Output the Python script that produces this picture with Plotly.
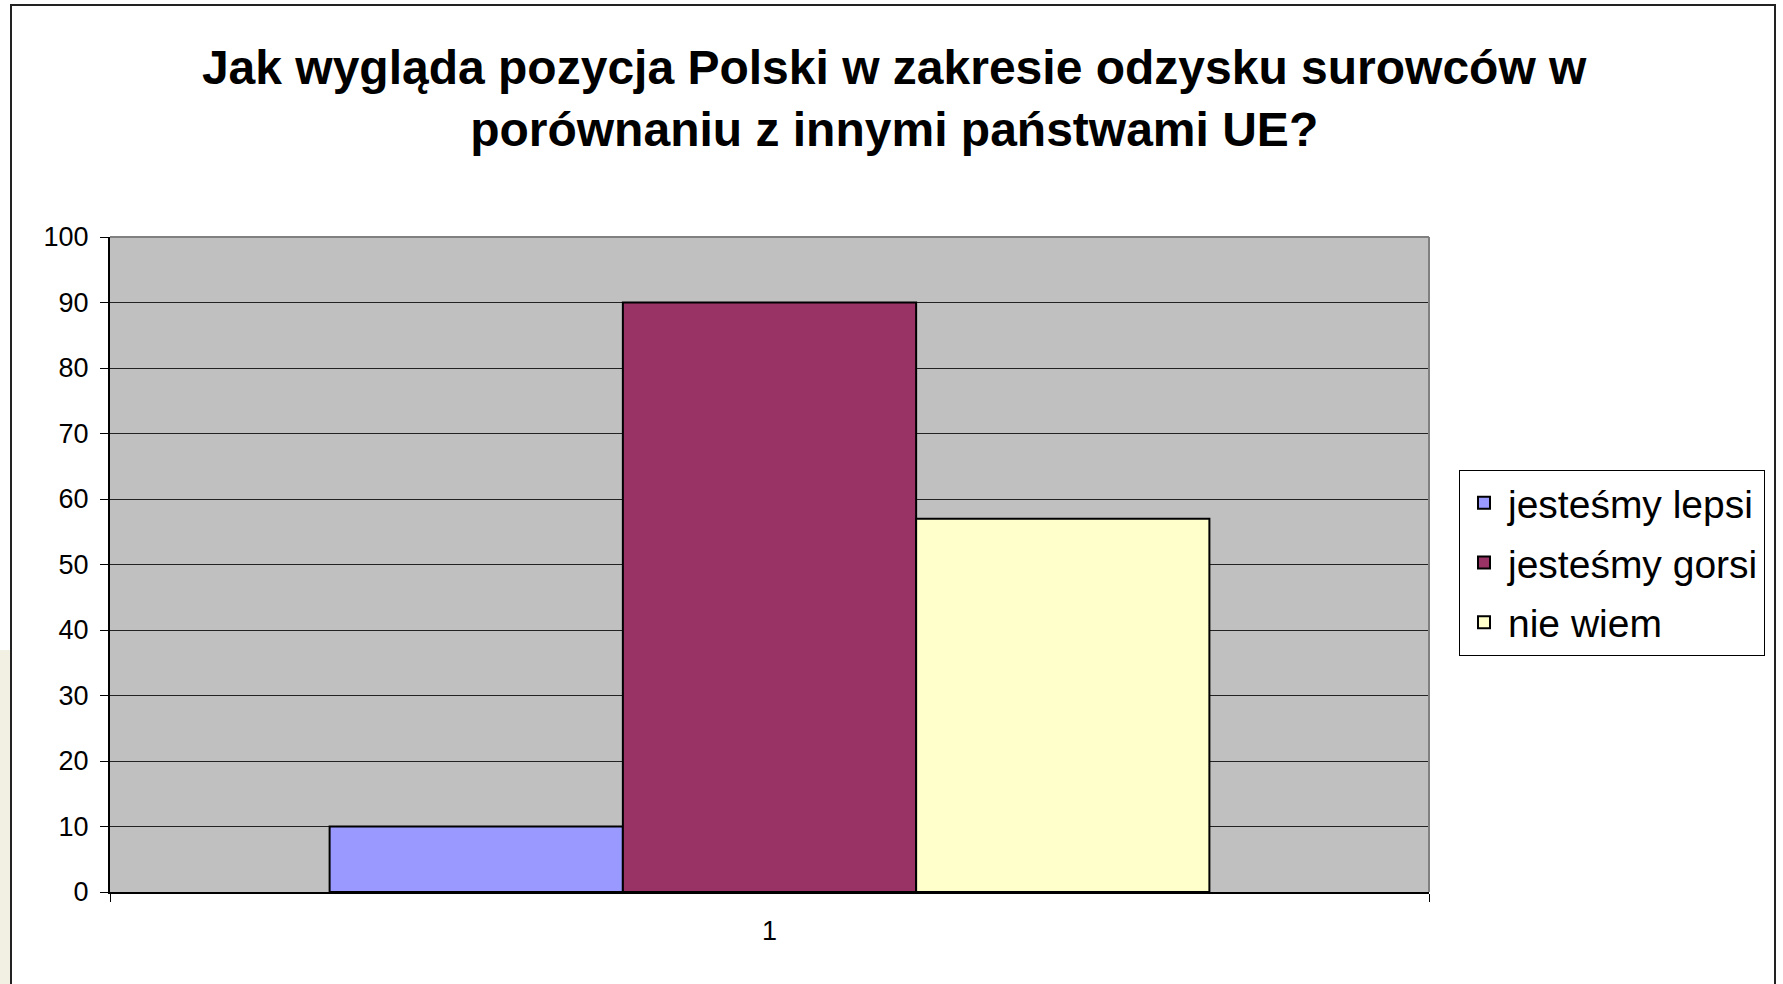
import plotly.graph_objects as go

categories = ["1"]
series_names = ["jesteśmy lepsi", "jesteśmy gorsi", "nie wiem"]
series_values = [[10], [90], [57]]
series_colors = ["#9999ff", "#993366", "#ffffcc"]
y_ticks = [0, 10, 20, 30, 40, 50, 60, 70, 80, 90, 100]
title_text = "Jak wygląda pozycja Polski w zakresie odzysku surowców w<br>porównaniu z innymi państwami UE?"

W, H = 1783, 984
L, R, T, B = 110, 354, 237, 92
PW, PH = W - L - R, H - T - B

def px_x(p):
    return (p - L) / PW

def px_y(p):
    return (H - B - p) / PH

FONT = "Liberation Sans, Arial, sans-serif"

fig = go.Figure()
for i, (name, vals, col) in enumerate(zip(series_names, series_values, series_colors)):
    fig.add_trace(go.Bar(
        x=categories, y=vals, name=name,
        marker=dict(color=col, line=dict(color="black", width=2)),
        legendgroup=f"g{i}",
    ))

fig.update_layout(
    width=W, height=H,
    margin=dict(l=L, r=R, t=T, b=B, autoexpand=False),
    paper_bgcolor="white",
    plot_bgcolor="#c0c0c0",
    barmode="group",
    bargap=0.333,
    bargroupgap=0,
    font=dict(family=FONT, color="black"),
    title=dict(
        text="<b>" + title_text + "</b>",
        x=0.5015, xanchor="center",
        y=1 - 84 / H, yanchor="middle", yref="container",
        font=dict(size=48, family=FONT, color="black"),
    ),
    showlegend=True,
    legend=dict(
        x=px_x(1459), y=px_y(470), xanchor="left", yanchor="top",
        bordercolor="black", borderwidth=1, bgcolor="white",
        font=dict(size=39, family=FONT, color="black"),
        tracegroupgap=6,
        itemwidth=38,
        traceorder="grouped",
    ),
    xaxis=dict(
        type="category",
        showgrid=False,
        showline=True, linecolor="black", linewidth=2,
        ticks="outside", tickson="boundaries", ticklen=8, tickcolor="black", tickwidth=1,
        tickfont=dict(size=27, family=FONT, color="black"),
        ticklabelstandoff=14,
        range=[-0.5, 0.5],
        zeroline=False,
    ),
    yaxis=dict(
        range=[0, 100],
        tickvals=y_ticks,
        showgrid=True, gridcolor="#222222", gridwidth=1,
        showline=True, linecolor="black", linewidth=2,
        ticks="outside", ticklen=8, tickcolor="black", tickwidth=1,
        tickfont=dict(size=27, family=FONT, color="black"),
        ticklabelstandoff=6,
        zeroline=False,
    ),
    shapes=[
        # beige slide background strip at the left
        dict(type="rect", xref="paper", yref="paper",
             x0=px_x(0), x1=px_x(10), y0=px_y(H), y1=px_y(650),
             fillcolor="#f1f0e2", line=dict(width=0), layer="below"),
        # outer chart frame
        dict(type="rect", xref="paper", yref="paper",
             x0=px_x(11), x1=px_x(1775), y0=px_y(H + 5), y1=px_y(5),
             line=dict(color="#222222", width=2), fillcolor="rgba(0,0,0,0)", layer="above"),
        # plot-area border (top and right in gray)
        dict(type="line", xref="paper", yref="paper", x0=0, x1=1, y0=1, y1=1,
             line=dict(color="#808080", width=2), layer="above"),
        dict(type="line", xref="paper", yref="paper", x0=1, x1=1, y0=0, y1=1,
             line=dict(color="#808080", width=2), layer="above"),
    ],
)

fig.write_html(
    "out.html",
    config={"displayModeBar": False},
    post_script="document.body.style.margin='0';document.body.style.overflow='hidden';",
)
